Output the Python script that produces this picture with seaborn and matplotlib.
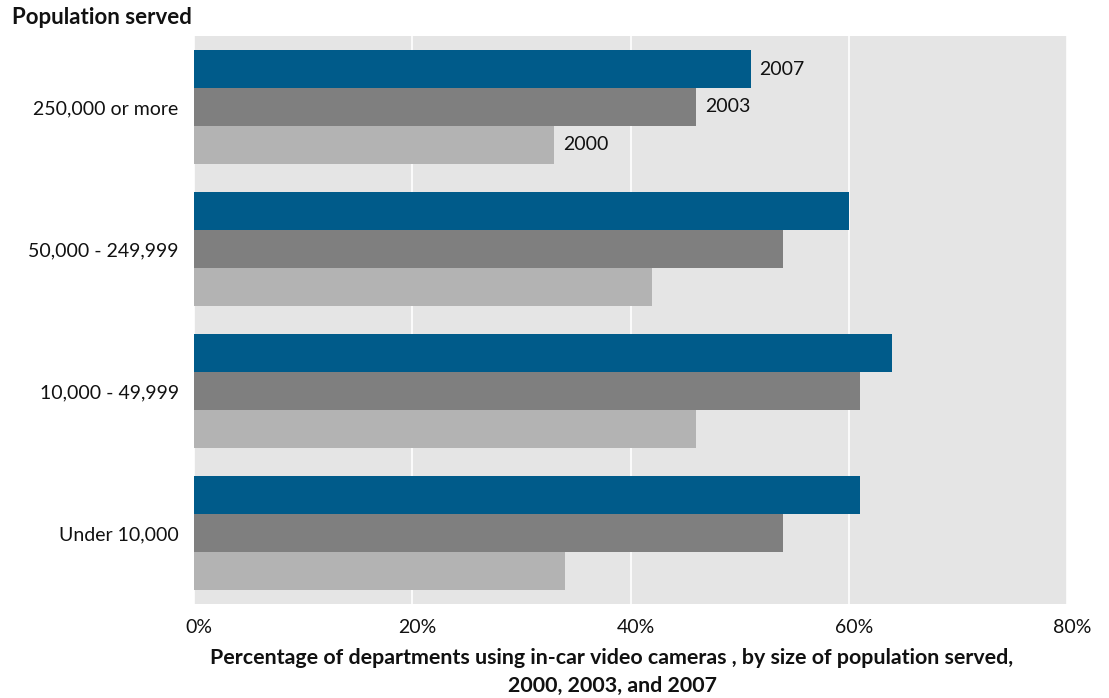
import matplotlib
matplotlib.use("Agg")
import matplotlib.pyplot as plt
import matplotlib.ticker as mticker
import matplotlib.transforms as mtransforms
import seaborn as sns
import pandas as pd

# Population-size groups and survey results (percent of departments)
categories = ["250,000 or more", "50,000 - 249,999", "10,000 - 49,999", "Under 10,000"]
years = ["2007", "2003", "2000"]
pct_2007 = [51, 60, 64, 61]
pct_2003 = [46, 54, 61, 54]
pct_2000 = [33, 42, 46, 34]
x_ticks = [0, 20, 40, 60, 80]

colors = {"2007": "#005b8a", "2003": "#7f7f7f", "2000": "#b3b3b3"}

rows = []
for year, vals in zip(years, [pct_2007, pct_2003, pct_2000]):
    for cat, v in zip(categories, vals):
        rows.append({"group": cat, "year": year, "pct": v})
df = pd.DataFrame(rows)

sns.set_theme(style="white")
plt.rcParams["font.family"] = ["Lato", "DejaVu Sans"]

fig = plt.figure(figsize=(11.09, 6.98), dpi=100)
ax = fig.add_axes([194 / 1109, 1 - 604 / 698, (1067 - 194) / 1109, (604 - 36) / 698])

sns.barplot(
    data=df, y="group", x="pct", hue="year", order=categories, hue_order=years,
    palette=colors, orient="h", width=0.8, saturation=1, linewidth=0,
    errorbar=None, legend=False, ax=ax,
)

ax.set_facecolor("#e5e5e5")
ax.set_xlim(0, 80)
ax.set_ylim(3.5, -0.5)
ax.xaxis.set_major_locator(mticker.FixedLocator(x_ticks))
ax.xaxis.set_major_formatter(mticker.FuncFormatter(lambda v, p: f"{v:.0f}%"))
ax.grid(axis="x", color="white", linewidth=1.2)
ax.grid(axis="y", visible=False)
ax.set_axisbelow(True)
for s in ax.spines.values():
    s.set_visible(False)
ax.tick_params(axis="both", length=0, labelsize=14, colors="#111111")
ax.tick_params(axis="y", pad=11)
ax.tick_params(axis="x", pad=11)
ax.set_xlabel("")
ax.set_ylabel("")

# nudge the percentage labels slightly to the right
shift = mtransforms.ScaledTranslation(5 / 100, 0, fig.dpi_scale_trans)
for lbl in ax.get_xticklabels():
    lbl.set_transform(lbl.get_transform() + shift)

# Year labels next to the bars of the first group
n = len(categories)
for i, year in enumerate(years):
    patch = ax.patches[i * n]
    w = patch.get_width()
    yc = patch.get_y() + patch.get_height() / 2
    ax.annotate(year, xy=(w, yc), xytext=(6.5, 0), textcoords="offset points",
                va="center", ha="left", fontsize=14, color="#111111")

fig.text(12 / 1109, 1 - 17 / 698, "Population served", fontsize=16,
         fontweight="bold", ha="left", va="center", color="#111111")
fig.text(612 / 1109, 1 - 672 / 698,
         "Percentage of departments using in-car video cameras , by size of population served,\n2000, 2003, and 2007",
         fontsize=15.4, fontweight="bold", ha="center", va="center",
         linespacing=1.45, color="#111111")

fig.savefig("out.png", dpi=100)
